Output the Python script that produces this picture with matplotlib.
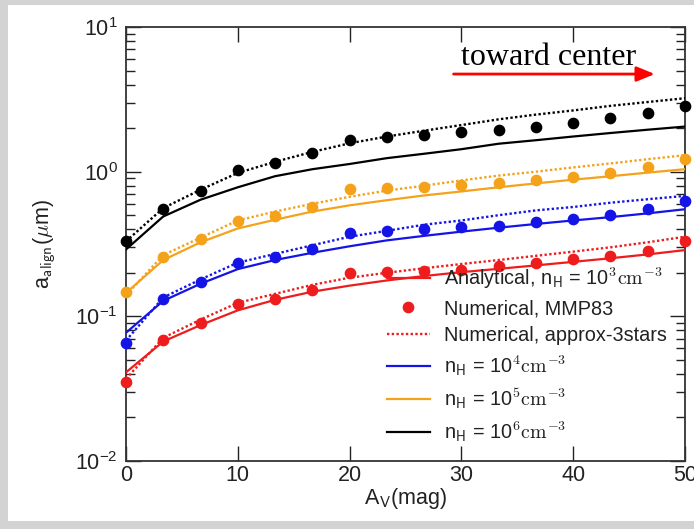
import numpy as np
import matplotlib
matplotlib.use("Agg")
import matplotlib.pyplot as plt
from matplotlib.patches import Rectangle
from matplotlib.ticker import LogLocator, NullFormatter, FixedLocator

plt.rcParams["font.family"] = ["Liberation Sans", "DejaVu Sans"]
plt.rcParams["mathtext.fontset"] = "cm"

# Visual extinction grid (mag)
av = [0, 3.33, 6.67, 10, 13.33, 16.67, 20, 23.33, 26.67, 30, 33.33, 36.67,
      40, 43.33, 46.67, 50]

# Analytical alignment size (um) for each gas density
analytic_1e3 = [0.041, 0.067, 0.087, 0.110, 0.130, 0.148, 0.163, 0.177, 0.190,
                0.202, 0.213, 0.225, 0.238, 0.252, 0.268, 0.287]
analytic_1e4 = [0.077, 0.128, 0.168, 0.212, 0.245, 0.275, 0.305, 0.335, 0.360,
                0.385, 0.410, 0.435, 0.460, 0.485, 0.515, 0.550]
analytic_1e5 = [0.145, 0.245, 0.325, 0.405, 0.465, 0.530, 0.585, 0.635, 0.685,
                0.730, 0.780, 0.830, 0.880, 0.930, 0.985, 1.040]
analytic_1e6 = [0.290, 0.490, 0.640, 0.780, 0.930, 1.040, 1.130, 1.240, 1.330,
                1.430, 1.560, 1.650, 1.750, 1.850, 1.950, 2.050]

# Numerical results with the MMP83 radiation field
mmp83_1e3 = [0.035, 0.069, 0.090, 0.122, 0.132, 0.151, 0.198, 0.202, 0.205,
             0.209, 0.222, 0.233, 0.248, 0.261, 0.285, 0.334]
mmp83_1e4 = [0.065, 0.132, 0.174, 0.235, 0.256, 0.291, 0.379, 0.391, 0.400,
             0.413, 0.424, 0.447, 0.469, 0.502, 0.550, 0.631]
mmp83_1e5 = [0.148, 0.259, 0.341, 0.458, 0.497, 0.567, 0.756, 0.767, 0.787,
             0.805, 0.840, 0.877, 0.924, 0.984, 1.080, 1.220]
mmp83_1e6 = [0.330, 0.552, 0.739, 1.020, 1.140, 1.350, 1.660, 1.730, 1.790,
             1.870, 1.940, 2.050, 2.180, 2.350, 2.560, 2.840]

# Numerical results with the approximate three-star field
stars_1e3 = [0.037, 0.071, 0.095, 0.124, 0.143, 0.165, 0.185, 0.200, 0.215,
             0.230, 0.245, 0.262, 0.280, 0.300, 0.325, 0.355]
stars_1e4 = [0.068, 0.135, 0.180, 0.235, 0.270, 0.310, 0.355, 0.390, 0.430,
             0.460, 0.500, 0.540, 0.570, 0.610, 0.645, 0.680]
stars_1e5 = [0.140, 0.265, 0.350, 0.460, 0.530, 0.600, 0.670, 0.740, 0.800,
             0.870, 0.940, 1.000, 1.070, 1.140, 1.220, 1.300]
stars_1e6 = [0.330, 0.560, 0.750, 0.980, 1.170, 1.370, 1.570, 1.750, 1.920,
             2.100, 2.300, 2.480, 2.650, 2.850, 3.030, 3.220]

x_ticks = [0, 10, 20, 30, 40, 50]

RED = "#ee1c1c"
BLUE = "#1414e6"
ORANGE = "#f5a21b"
BLACK = "#000000"

fig = plt.figure(figsize=(6.94, 5.29), dpi=100, facecolor="#d3d3d3")
# white page area inside the grey border
page = Rectangle((8 / 694, 8 / 529), 1.0, (529 - 5 - 8) / 529,
                 transform=fig.transFigure, facecolor="white",
                 edgecolor="none", zorder=-10)
fig.add_artist(page)

ax = fig.add_axes([126 / 694, 68 / 529, 559 / 694, 434 / 529])
ax.set_zorder(2)
ax.set_facecolor("white")

groups = [
    (analytic_1e3, mmp83_1e3, stars_1e3, RED),
    (analytic_1e4, mmp83_1e4, stars_1e4, BLUE),
    (analytic_1e5, mmp83_1e5, stars_1e5, ORANGE),
    (analytic_1e6, mmp83_1e6, stars_1e6, BLACK),
]

dotted = (0, (1.0, 1.0))
for ana, num, app, col in groups:
    ax.plot(av, ana, color=col, lw=1.6, zorder=3)
    ax.plot(av, app, color=col, lw=1.7, ls=dotted, zorder=3)
    ax.plot(av, num, ls="none", marker="o", ms=7.4, color=col, mec=col,
            zorder=4, clip_on=False)

ax.set_yscale("log")
ax.set_ylim(1e-2, 1e1)
ax.set_xlim(0, 50)
ax.xaxis.set_major_locator(FixedLocator(x_ticks))
ax.yaxis.set_major_locator(LogLocator(base=10, numticks=10))
ax.yaxis.set_minor_locator(LogLocator(base=10, subs=np.arange(2, 10), numticks=20))
ax.yaxis.set_minor_formatter(NullFormatter())

for side in ax.spines.values():
    side.set_linewidth(1.3)
    side.set_color("#333333")

ax.tick_params(which="major", direction="in", length=10.5, width=1.0,
               top=True, right=True, labelsize=15.5, colors="#222222", pad=6)
ax.tick_params(which="minor", direction="in", length=6.5, width=1.0,
               top=False, right=True, left=True, colors="#222222")
ax.tick_params(axis="x", pad=3)

ax.set_xlabel(r"A$_\mathsf{V}$(mag)", fontsize=15.5, labelpad=0, color="#222222")
ax.set_ylabel(r"a$_\mathsf{align}$($\mu$m)", fontsize=15.5, labelpad=12, color="#222222")

# Legend proxies
h_ana, = ax.plot([], [], color=RED, lw=1.6)
h_num, = ax.plot([], [], ls="none", marker="o", ms=7.4, color=RED)
h_app, = ax.plot([], [], color=RED, lw=1.7, ls=dotted)
h_b, = ax.plot([], [], color=BLUE, lw=1.6)
h_o, = ax.plot([], [], color=ORANGE, lw=1.6)
h_k, = ax.plot([], [], color=BLACK, lw=1.6)
labels = [
    r"Analytical, n$_\mathsf{H}$ = 10$^\mathsf{3}\mathrm{cm}^{-3}$",
    "Numerical, MMP83",
    "Numerical, approx-3stars",
    r"n$_\mathsf{H}$ = 10$^\mathsf{4}\mathrm{cm}^{-3}$",
    r"n$_\mathsf{H}$ = 10$^\mathsf{5}\mathrm{cm}^{-3}$",
    r"n$_\mathsf{H}$ = 10$^\mathsf{6}\mathrm{cm}^{-3}$",
]
leg = ax.legend([h_ana, h_num, h_app, h_b, h_o, h_k], labels,
                loc="upper left", bbox_to_anchor=(0.467, 0.45),
                frameon=False, fontsize=14.3, handlelength=2.15,
                handletextpad=0.7, labelspacing=0.41, borderpad=0,
                borderaxespad=0)
for t in leg.get_texts():
    t.set_color("#222222")

ax.text(30.0, 5.46, "toward center", family=["Liberation Serif"],
        fontsize=23, color="black", ha="left", va="baseline", zorder=5)
ax.annotate("", xy=(47.3, 4.73), xytext=(29.3, 4.73),
            arrowprops=dict(arrowstyle="-|>,head_length=1.1,head_width=0.45",
                            color="red", lw=2.0, shrinkA=0, shrinkB=0),
            zorder=5)

fig.savefig("out.png", dpi=100, facecolor=fig.get_facecolor())
